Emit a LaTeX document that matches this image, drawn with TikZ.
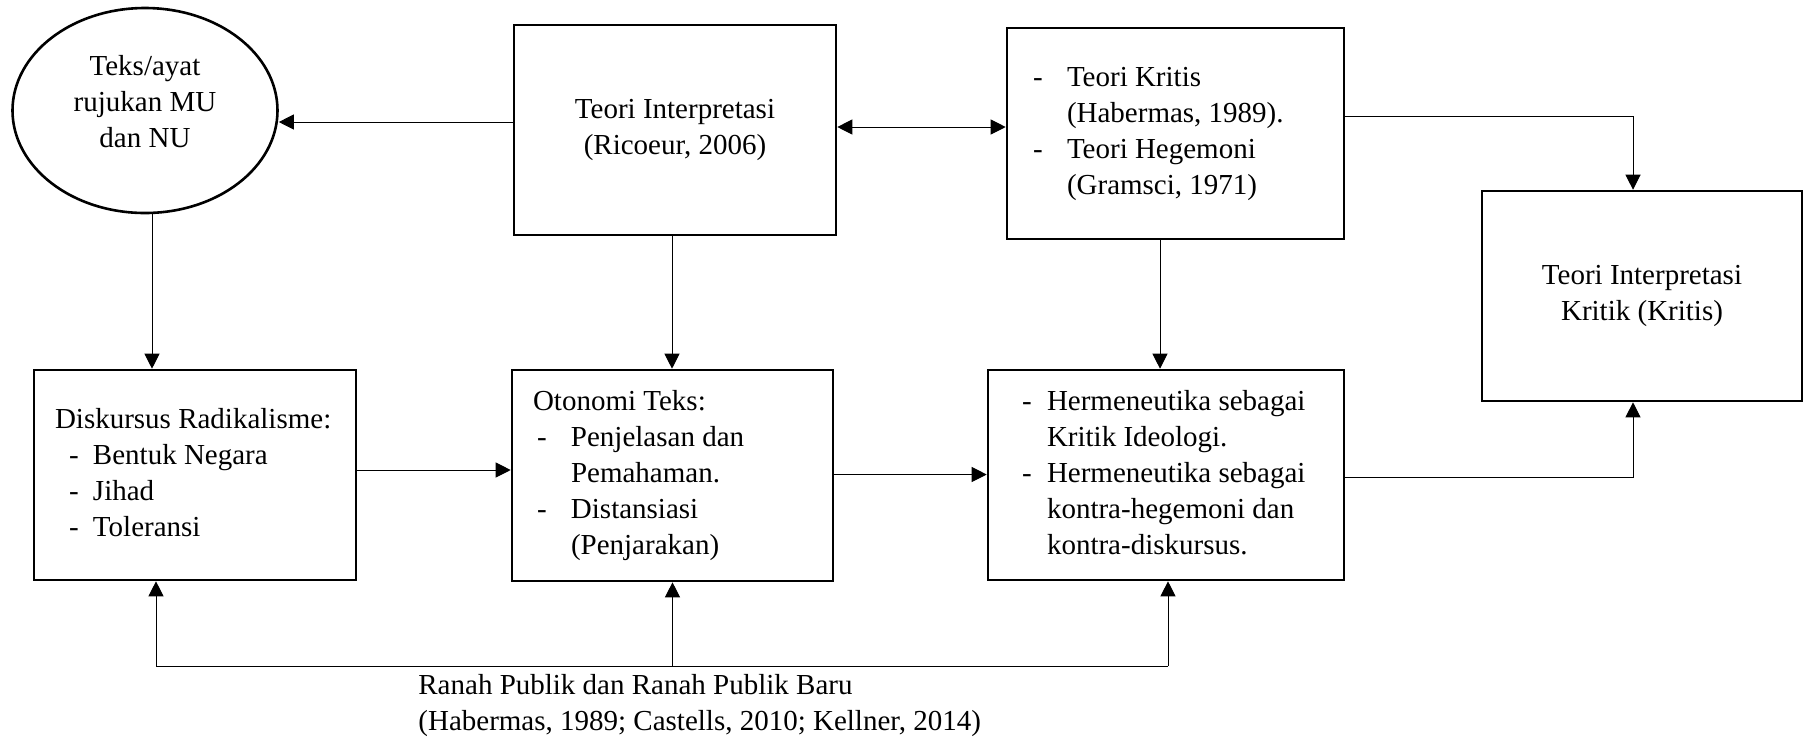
\documentclass[tikz,border=0pt]{standalone}
\usepackage{fontspec}
\setmainfont{Liberation Serif}
\usetikzlibrary{arrows.meta,shapes.geometric}
\newcommand{\lbox}[2]{\makebox[#1][l]{\begin{tabular}{@{}l@{}}#2\end{tabular}}}
\begin{document}
\begin{tikzpicture}[x=0.5pt,y=-0.5pt,
  font=\fontsize{14.5}{18}\selectfont,
  shapebox/.style={draw,line width=1.3pt,inner ysep=0pt},
  boxc/.style={shapebox,inner xsep=0pt,align=center},
  conn/.style={line width=0.5pt},
  arr/.style={conn,-{Triangle[length=7.5pt,width=7.5pt]}},
  arrs/.style={conn,{Triangle[length=7.5pt,width=7.5pt]}-{Triangle[length=7.5pt,width=7.5pt]}}]
\useasboundingbox (0,0) rectangle (1803,741);

% nodes
\node[ellipse,draw,line width=1.3pt,inner sep=0pt,minimum width=132.5pt,minimum height=102.5pt] (E) at (145,110.5)
  {\raisebox{3pt}[\height][\depth]{\begin{tabular}{@{}c@{}}Teks/ayat\\rujukan MU\\dan NU\end{tabular}}};
\node[boxc,minimum width=161pt,minimum height=105pt] (TI) at (675,130) {Teori Interpretasi\\(Ricoeur, 2006)};
\node[shapebox,inner xsep=13pt,minimum height=105.5pt] (TK) at (1175.5,133.5)
  {\lbox{142.5pt}{\makebox[17pt][l]{-}Teori Kritis\\\hspace*{17pt}(Habermas, 1989).\\\makebox[17pt][l]{-}Teori Hegemoni\\\hspace*{17pt}(Gramsci, 1971)}};
\node[boxc,minimum width=160pt,minimum height=105pt] (RB) at (1642,296) {Teori Interpretasi\\Kritik (Kritis)};
\node[shapebox,inner xsep=10.5pt,minimum height=105pt] (D) at (195,475)
  {\lbox{140pt}{Diskursus Radikalisme:\\\hspace*{7pt}\makebox[12pt][l]{-}Bentuk Negara\\\hspace*{7pt}\makebox[12pt][l]{-}Jihad\\\hspace*{7pt}\makebox[12pt][l]{-}Toleransi}};
\node[shapebox,inner xsep=10.5pt,minimum height=105.5pt] (O) at (672.5,475.5)
  {\lbox{139.5pt}{Otonomi Teks:\\\hspace*{2pt}\makebox[17pt][l]{-}Penjelasan dan\\\hspace*{19pt}Pemahaman.\\\hspace*{2pt}\makebox[17pt][l]{-}Distansiasi\\\hspace*{19pt}(Penjarakan)}};
\node[shapebox,inner xsep=17pt,minimum height=105pt] (H) at (1166,475)
  {\lbox{144pt}{\makebox[12.5pt][l]{-}Hermeneutika sebagai\\\hspace*{12.5pt}Kritik Ideologi.\\\makebox[12.5pt][l]{-}Hermeneutika sebagai\\\hspace*{12.5pt}kontra-hegemoni dan\\\hspace*{12.5pt}kontra-diskursus.}};
\node[anchor=west,align=left,inner sep=0pt] (RP) at (418,706)
  {Ranah Publik dan Ranah Publik Baru\\(Habermas, 1989; Castells, 2010; Kellner, 2014)};

% connectors
\draw[arr] ([yshift=4pt]TI.west) -- ([yshift=4pt]TI.west -| E.east);
\draw[arrs] ([yshift=1.5pt]TI.east) -- ([yshift=1.5pt]TI.east -| TK.west);
\draw[arr] ([yshift=8.5pt]TK.east) -| ([xshift=-4.5pt]RB.north);
\draw[arr] ([yshift=-1pt]H.east) -| ([xshift=-4.5pt]RB.south);
\draw[arr] ([xshift=3.5pt]E.south) -- ([xshift=3.5pt]E.south |- D.north);
\draw[arr] ([xshift=-1.5pt]TI.south) -- ([xshift=-1.5pt]TI.south |- O.north);
\draw[arr] ([xshift=-3pt]H.north |- TK.south) -- ([xshift=-3pt]H.north);
\draw[arr] ([yshift=2.5pt]D.east) -- ([yshift=2.5pt]D.east -| O.west);
\draw[arr] ([yshift=0.5pt]O.east) -- ([yshift=0.5pt]O.east -| H.west);

\coordinate (bl) at (156,666);
\coordinate (br) at (1168,666);
\draw[conn] (bl) -- (br);
\draw[arr] (bl) -- (bl |- D.south);
\draw[arr] (O.south |- bl) -- (O.south);
\draw[arr] (br) -- (br |- H.south);
\end{tikzpicture}
\end{document}
